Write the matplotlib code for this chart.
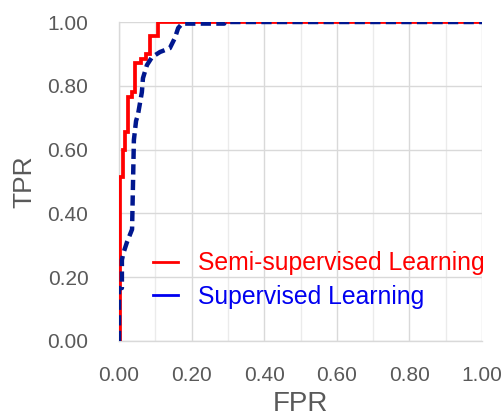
import matplotlib
matplotlib.use("Agg")
import matplotlib.pyplot as plt
from matplotlib.lines import Line2D
from matplotlib.ticker import MultipleLocator

plt.rcParams['font.family'] = ['Liberation Sans', 'DejaVu Sans']

# Semi-supervised Learning ROC (step curve)
semi_fpr = [0.0, 0.003, 0.003, 0.010, 0.010, 0.017, 0.017, 0.025, 0.025, 0.036, 0.036,
            0.044, 0.044, 0.060, 0.060, 0.075, 0.075, 0.085, 0.085, 0.107, 0.107, 1.0]
semi_tpr = [0.0, 0.0, 0.514, 0.514, 0.600, 0.600, 0.655, 0.655, 0.765, 0.765, 0.780,
            0.780, 0.870, 0.870, 0.885, 0.885, 0.900, 0.900, 0.955, 0.955, 1.0, 1.0]

# Supervised Learning ROC
sup_fpr = [0.0, 0.0, 0.008, 0.008, 0.012, 0.022, 0.036, 0.041, 0.047, 0.052, 0.063,
           0.066, 0.077, 0.091, 0.113, 0.140, 0.154, 0.163, 0.174, 0.29, 0.29, 1.0]
sup_tpr = [0.0, 0.166, 0.166, 0.254, 0.275, 0.310, 0.350, 0.630, 0.690, 0.708, 0.780,
           0.824, 0.865, 0.890, 0.906, 0.918, 0.950, 0.981, 0.995, 0.995, 1.0, 1.0]

x_ticks = [0.0, 0.2, 0.4, 0.6, 0.8, 1.0]
y_ticks = [0.0, 0.2, 0.4, 0.6, 0.8, 1.0]
tick_labels = ["0.00", "0.20", "0.40", "0.60", "0.80", "1.00"]
series_labels = ["Semi-supervised Learning", "Supervised Learning"]

fig = plt.figure(figsize=(5.01, 4.18), dpi=100)
ax = fig.add_axes([119 / 501, 77 / 418, 363 / 501, 319 / 418])

ax.plot(semi_fpr, semi_tpr, color='#FF0000', lw=2.7, solid_joinstyle='miter', zorder=3)
ax.plot(sup_fpr, sup_tpr, color='#00178F', lw=3.2, linestyle=(0, (2.3, 1.2)), zorder=4)

ax.set_xlim(0, 1)
ax.set_ylim(0, 1)
ax.set_xticks(x_ticks)
ax.set_yticks(y_ticks)
ax.set_xticklabels(tick_labels)
ax.set_yticklabels(tick_labels)
ax.xaxis.set_minor_locator(MultipleLocator(0.1))

ax.grid(which='major', color='#D9D9D9', lw=1.0, zorder=0)
ax.grid(which='minor', axis='x', color='#EBEBEB', lw=1.0, zorder=0)
ax.set_axisbelow(True)

for s in ['top', 'right']:
    ax.spines[s].set_visible(False)
for s in ['left', 'bottom']:
    ax.spines[s].set_color('#D9D9D9')
    ax.spines[s].set_linewidth(1.0)

ax.tick_params(which='both', length=0, labelsize=15, colors='#595959')
ax.tick_params(axis='x', pad=18)
ax.tick_params(axis='y', pad=22)

ax.set_xlabel("FPR", fontsize=20, color='#595959', labelpad=4)
ax.set_ylabel("TPR", fontsize=19, color='#595959', labelpad=8)

handles = [Line2D([0], [0], color='#FF0000', lw=2.0),
           Line2D([0], [0], color='#0000F0', lw=2.0)]
leg = ax.legend(handles, series_labels, loc='lower left', bbox_to_anchor=(0.095, 0.1),
                frameon=False, fontsize=17.8, handlelength=1.0, handletextpad=0.8,
                labelspacing=0.4, borderaxespad=0, borderpad=0,
                labelcolor=['#FF0000', '#0000F0'])

fig.savefig("out.png", dpi=100)
